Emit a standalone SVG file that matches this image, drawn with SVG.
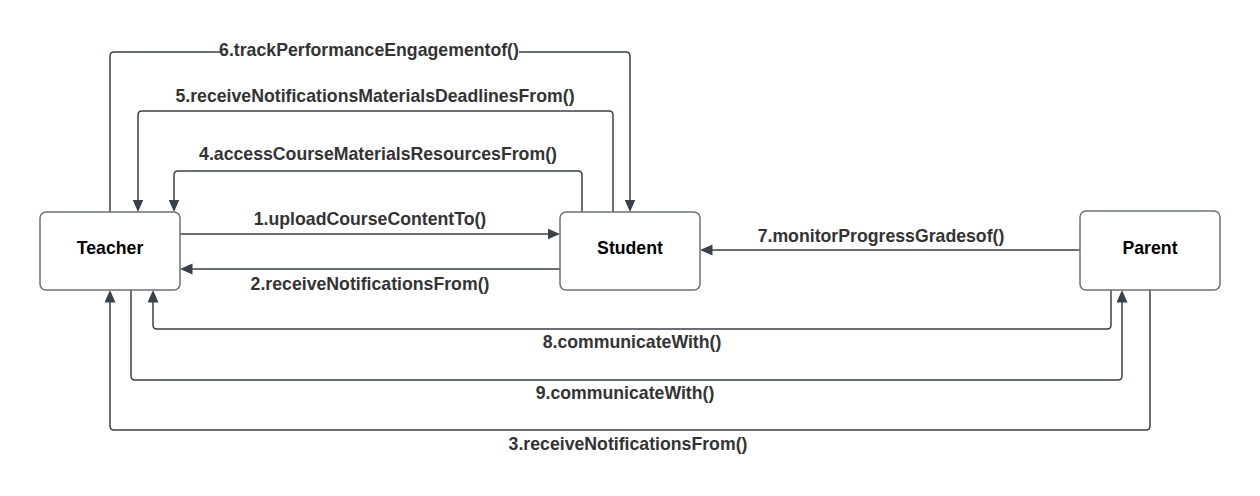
<svg xmlns="http://www.w3.org/2000/svg" width="1260" height="496" viewBox="0 0 1260 496">
<style>
.node{fill:#ffffff;stroke:#6b707a;stroke-width:1.5}
.nl{font-family:"Liberation Sans",Arial,sans-serif;font-weight:bold;font-size:17.7px;fill:#000;text-anchor:middle}
.c{fill:none;stroke:#3a414a;stroke-width:1.5}
.lbl{font-family:"Liberation Sans",Arial,sans-serif;font-weight:bold;font-size:17.7px;fill:#333333;text-anchor:middle}
</style>
<defs>
<marker id="ah" markerUnits="userSpaceOnUse" markerWidth="13" markerHeight="12" refX="0.5" refY="5.5" orient="auto">
<path d="M0,0 L12.5,5.5 L0,11 z" fill="#3a414a"/>
</marker>
</defs>
<rect width="1260" height="496" fill="#ffffff"/>
<g id="connectors">
<path class="c" d="M110,212 V56 Q110,52 114,52 H626 Q630,52 630,56 V200" marker-end="url(#ah)"/>
<path class="c" d="M613,212 V115 Q613,111 609,111 H142 Q138,111 138,115 V200" marker-end="url(#ah)"/>
<path class="c" d="M582,212 V175 Q582,171 578,171 H178 Q174,171 174,175 V200" marker-end="url(#ah)"/>
<path class="c" d="M180,234 H548" marker-end="url(#ah)"/>
<path class="c" d="M560,269 H192" marker-end="url(#ah)"/>
<path class="c" d="M1080,250 H712" marker-end="url(#ah)"/>
<path class="c" d="M1111,290 V325 Q1111,329 1107,329 H157 Q153,329 153,325 V302" marker-end="url(#ah)"/>
<path class="c" d="M131,290 V376 Q131,380 135,380 H1118 Q1122,380 1122,376 V302" marker-end="url(#ah)"/>
<path class="c" d="M1150,290 V426 Q1150,430 1146,430 H114 Q110,430 110,426 V302" marker-end="url(#ah)"/>
<rect x="220" y="40" width="299" height="20" fill="#ffffff"/>
<text class="lbl" x="369" y="56">6.trackPerformanceEngagementof()</text>
<text class="lbl" x="375" y="102">5.receiveNotificationsMaterialsDeadlinesFrom()</text>
<text class="lbl" x="378" y="160">4.accessCourseMaterialsResourcesFrom()</text>
<text class="lbl" x="370" y="225">1.uploadCourseContentTo()</text>
<text class="lbl" x="370" y="290">2.receiveNotificationsFrom()</text>
<text class="lbl" x="881" y="242">7.monitorProgressGradesof()</text>
<text class="lbl" x="632" y="348">8.communicateWith()</text>
<text class="lbl" x="625" y="399">9.communicateWith()</text>
<text class="lbl" x="628" y="450">3.receiveNotificationsFrom()</text>
</g>
<g id="teacher">
<rect class="node" x="40" y="212" width="140" height="78" rx="6"/>
<text class="nl" x="110" y="254">Teacher</text>
</g>
<g id="student">
<rect class="node" x="560" y="212" width="140" height="78" rx="6"/>
<text class="nl" x="630" y="254">Student</text>
</g>
<g id="parent">
<rect class="node" x="1080" y="211" width="140" height="79" rx="6"/>
<text class="nl" x="1150" y="254">Parent</text>
</g>
</svg>
